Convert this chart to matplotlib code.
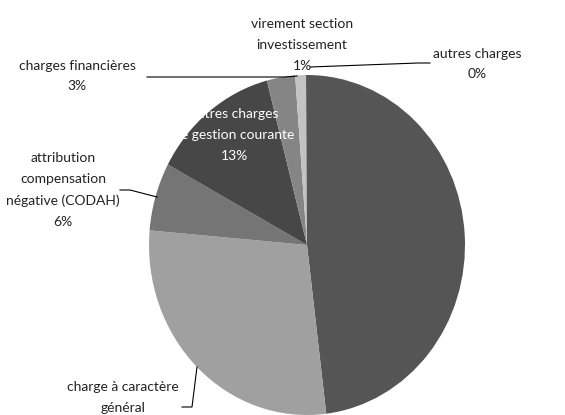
import matplotlib.pyplot as plt

plt.rcParams['font.family'] = ['Lato', 'DejaVu Sans']

categories = [
    "charges de personnel",
    "charge à caractère\ngénéral",
    "attribution\ncompensation\nnégative (CODAH)",
    "autres charges\nde gestion courante",
    "charges financières",
    "virement section\ninvestissement",
    "autres charges",
]
values = [48.2, 28.4, 6.5, 13.1, 2.9, 1.1, 0.1]
pct_labels = ["48%", "29%", "6%", "13%", "3%", "1%", "0%"]
colors = ["#555555", "#a0a0a0", "#757575", "#474747", "#858585", "#c3c3c3", "#5a5a5a"]

W, H = 565, 415
fig = plt.figure(figsize=(W / 100, H / 100), dpi=100)

# pie is slightly stretched vertically in the original
cx, cy, rx, ry = 307, 245, 158, 170
ax = fig.add_axes([(cx - rx) / W, (H - cy - ry) / H, 2 * rx / W, 2 * ry / H])
ax.pie(values, colors=colors, startangle=90, counterclock=False,
       wedgeprops=dict(linewidth=0))
ax.set_aspect('auto')
ax.set_xlim(-1, 1)
ax.set_ylim(-1, 1)
ax.axis('off')

# overlay in pixel coords for labels and leader lines
ov = fig.add_axes([0, 0, 1, 1])
ov.set_xlim(0, W)
ov.set_ylim(H, 0)
ov.axis('off')
ov.patch.set_alpha(0)

fs = 10
txt = dict(ha='center', va='center', fontsize=fs, color='#222222', linespacing=1.9)

ov.text(302, 45, categories[5] + "\n" + pct_labels[5], **txt)
ov.text(477, 64, categories[6] + "\n" + pct_labels[6], **txt)
ov.text(77, 76, categories[4] + "\n" + pct_labels[4], **txt)
ov.text(63, 190, categories[2] + "\n" + pct_labels[2], **txt)
# the percentage of this slice falls below the picture edge in the original
ov.text(123, 397, categories[1], **txt)
ov.text(234, 135, "autres charges\nde gestion courante\n" + pct_labels[3],
        ha='center', va='center', fontsize=fs, color='white', linespacing=1.9)

lc = dict(color='black', lw=0.8)
ov.plot([147, 285, 297], [77, 77, 76], **lc)
ov.plot([430, 418, 310], [63, 63, 67], **lc)
ov.plot([120, 130, 157], [190, 190, 197], **lc)
ov.plot([197, 192, 182], [367, 407, 407], **lc)

fig.savefig("out.png", dpi=100)
